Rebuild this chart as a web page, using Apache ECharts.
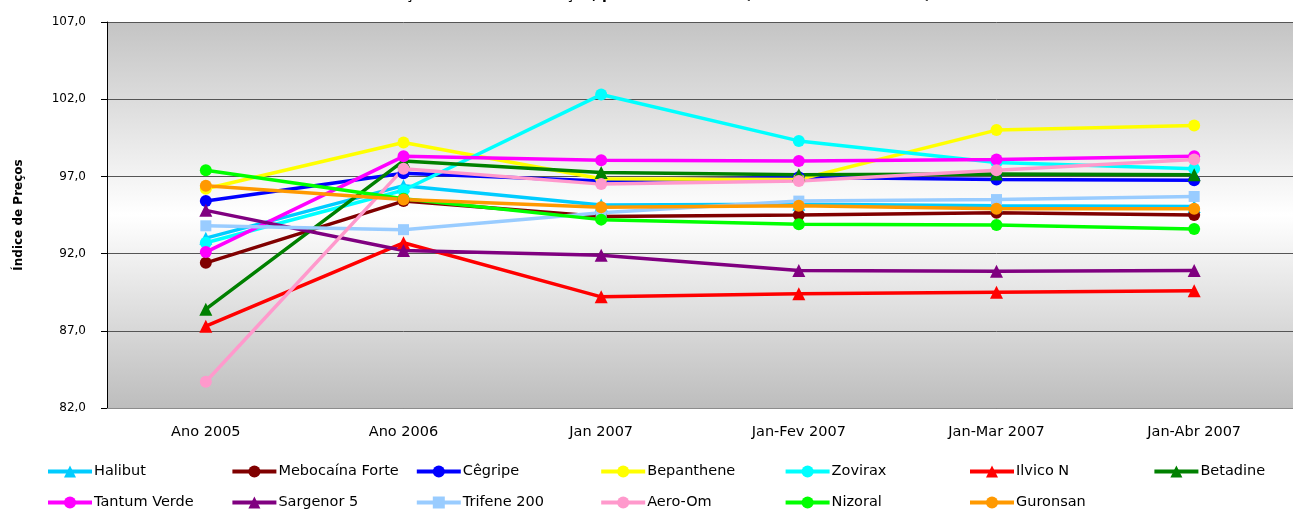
<!DOCTYPE html>
<html>
<head>
<meta charset="utf-8">
<script src="https://cdn.jsdelivr.net/npm/echarts@6/dist/echarts.min.js"></script>
<style>
html,body{margin:0;padding:0;background:#fff}
#main{width:1293px;height:511px}
</style>
</head>
<body>
<div id="main"></div>
<script>
var categories=['Ano 2005','Ano 2006','Jan 2007','Jan-Fev 2007','Jan-Mar 2007','Jan-Abr 2007']
var yTicks=[82,87,92,97,102,107]

var halibut=[93.0,96.4,95.15,95.2,95.1,95.05]
var mebocaina=[91.4,95.4,94.4,94.5,94.65,94.5]
var cegripe=[95.4,97.2,96.7,96.95,96.8,96.75]
var bepanthene=[96.2,99.2,96.85,96.8,100.0,100.3]
var zovirax=[92.7,96.1,102.3,99.3,97.9,97.5]
var ilvico=[87.3,92.7,89.2,89.4,89.5,89.6]
var betadine=[88.4,98.0,97.25,97.1,97.15,97.1]
var tantum=[92.1,98.3,98.05,98.0,98.1,98.3]
var sargenor=[94.8,92.2,91.9,90.9,90.85,90.9]
var trifene=[93.8,93.55,94.65,95.4,95.5,95.7]
var aeroom=[83.7,97.5,96.5,96.7,97.4,98.1]
var nizoral=[97.4,95.55,94.2,93.9,93.85,93.6]
var guronsan=[96.4,95.5,95.0,95.1,94.9,94.9]

var font='Tahoma, "DejaVu Sans", sans-serif'

// nome, dados, cor, simbolo
var lista=[
  ['Halibut',halibut,'#00ccff','triangle'],
  ['Mebocaína Forte',mebocaina,'#800000','circle'],
  ['Cêgripe',cegripe,'#0000ff','circle'],
  ['Bepanthene',bepanthene,'#ffff00','circle'],
  ['Zovirax',zovirax,'#00ffff','circle'],
  ['Ilvico N',ilvico,'#ff0000','triangle'],
  ['Betadine',betadine,'#008000','triangle'],
  ['Tantum Verde',tantum,'#ff00ff','circle'],
  ['Sargenor 5',sargenor,'#800080','triangle'],
  ['Trifene 200',trifene,'#99ccff','rect'],
  ['Aero-Om',aeroom,'#ff99cc','circle'],
  ['Nizoral',nizoral,'#00ff00','circle'],
  ['Guronsan',guronsan,'#ff9900','circle']
]

var series=lista.map(function(s){
  return {
    name:s[0],
    type:'line',
    data:s[1],
    symbol:s[3],
    symbolSize:s[3]=='circle'?12:(s[3]=='rect'?11:13),
    itemStyle:{color:s[2]},
    lineStyle:{color:s[2],width:3.5},
    emphasis:{disabled:true},
    animation:false
  }
})

// uma legenda por item, em 7 colunas fixas
var legends=lista.map(function(s,i){
  var col=i%7,row=Math.floor(i/7)
  return {
    data:[s[0]],
    left:46+col*184.4,
    top:row==0?464:495,
    padding:0,
    itemWidth:44,
    itemHeight:15,
    itemGap:0,
    lineStyle:{width:4},
    textStyle:{fontFamily:font,fontSize:14.5,color:'#000',padding:[0,0,0,-3]}
  }
})

var myChart=echarts.init(document.getElementById('main'))
var option={
  backgroundColor:'#fff',
  title:{
    text:'Evolução do Índice de Preços, por Medicamento (Base: Ano 2005 = 100)',
    left:'center',
    top:-17,
    textStyle:{fontFamily:font,fontSize:14,fontWeight:'bold',color:'#000'}
  },
  legend:legends,
  grid:{
    left:107,
    right:-11,
    top:22,
    bottom:103,
    show:true,
    borderWidth:0,
    backgroundColor:new echarts.graphic.LinearGradient(0,0,0,1,[
      {offset:0,color:'#c4c4c4'},
      {offset:0.5,color:'#ffffff'},
      {offset:1,color:'#bdbdbd'}
    ])
  },
  xAxis:{
    type:'category',
    data:categories,
    axisLine:{lineStyle:{color:'#8c8c8c',width:1}},
    axisTick:{show:false},
    axisLabel:{fontFamily:font,fontSize:14.5,color:'#000',margin:17}
  },
  yAxis:{
    type:'value',
    min:82,
    max:107,
    name:'Índice de Preços',
    nameLocation:'middle',
    nameGap:82,
    nameTextStyle:{fontFamily:font,fontSize:12,fontWeight:'bold',color:'#000'},
    axisLine:{show:true,lineStyle:{color:'#000',width:1}},
    axisTick:{show:true,length:6,customValues:yTicks,lineStyle:{color:'#000'}},
    axisLabel:{
      fontFamily:font,fontSize:12,color:'#000',margin:21,
      customValues:yTicks,
      formatter:function(v){return v.toFixed(1).replace('.',',')}
    },
    splitLine:{show:true,lineStyle:{color:'#555',width:1}}
  },
  series:series
}
myChart.setOption(option)
</script>
</body>
</html>
